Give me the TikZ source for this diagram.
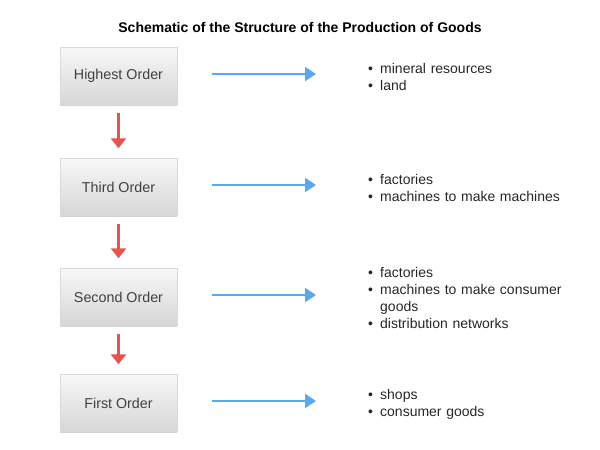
\documentclass[tikz,border=0pt]{standalone}
\usepackage{fontspec}
\setmainfont{Liberation Sans}
\usetikzlibrary{arrows.meta,shadows}
\definecolor{flowblue}{HTML}{5AA8F0}
\definecolor{flowred}{HTML}{E8534F}
\newcommand{\itm}[1]{\par\hangindent=12pt\hangafter=1\noindent\makebox[12pt][l]{\textbullet}#1}

\begin{document}
\begin{tikzpicture}[x=1pt,y=-1pt,
  order/.style={rectangle,minimum width=117pt,minimum height=57pt,inner sep=0pt,
    top color=gray!6,bottom color=gray!32,draw=gray!30,
    drop shadow={shadow xshift=0pt,shadow yshift=-1.5pt,opacity=0.35},
    font=\fontsize{14.3}{17}\selectfont,text=black!75},
  items/.style={anchor=west,text width=205pt,inner sep=0pt,align=left,
    font=\fontsize{14}{17}\selectfont,text=black!85},
  down/.style={flowred,line width=2.4pt,-{Triangle[length=10pt,width=15pt]}},
  across/.style={flowblue,line width=2.2pt,-{Triangle[length=11pt,width=14pt]}}
]
  \useasboundingbox (0,0) rectangle (600,450);
  \node[font=\bfseries\fontsize{14}{17}\selectfont] (title) at (300,27) {Schematic of the Structure of the Production of Goods};

  \node[order] (highest) at (118.5,76) {Highest Order};
  \node[order] (third) at (118.5,187) {Third Order};
  \node[order] (second) at (118.5,297) {Second Order};
  \node[order] (first) at (118.5,403) {First Order};

  \node[items] (highestlist) at (368,74) {\itm{mineral resources}\itm{land}};
  \node[items] (thirdlist) at (368,185) {\itm{factories}\itm{machines to make machines}};
  \node[items] (secondlist) at (368,295) {\itm{factories}\itm{machines to make consumer goods}\itm{distribution networks}};
  \node[items] (firstlist) at (368,401) {\itm{shops}\itm{consumer goods}};

  % red arrows between the orders
  \draw[down] ([yshift=-8pt]highest.south) -- ([yshift=10pt]third.north);
  \draw[down] ([yshift=-8pt]third.south) -- ([yshift=10pt]second.north);
  \draw[down] ([yshift=-8pt]second.south) -- ([yshift=10pt]first.north);

  % blue arrows to the lists
  \draw[across] ([xshift=35pt,yshift=2pt]highest.east) -- ([xshift=-52pt]highestlist.west);
  \draw[across] ([xshift=35pt,yshift=2pt]third.east) -- ([xshift=-52pt]thirdlist.west);
  \draw[across] ([xshift=35pt,yshift=2pt]second.east) -- ([xshift=-52pt]secondlist.west);
  \draw[across] ([xshift=35pt,yshift=2pt]first.east) -- ([xshift=-52pt]firstlist.west);
\end{tikzpicture}
\end{document}
